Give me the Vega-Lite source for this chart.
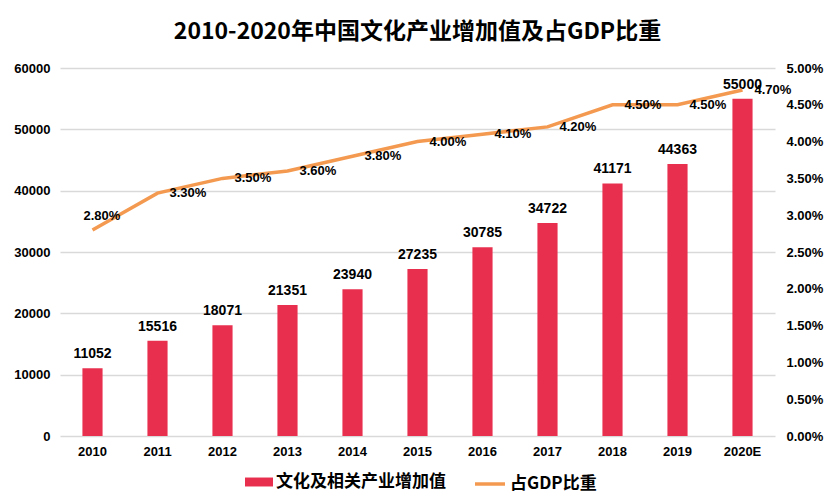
{
  "$schema": "https://vega.github.io/schema/vega-lite/v6.json",
  "width": 715,
  "height": 368,
  "autosize": {"type": "none"},
  "padding": {"left": 60, "top": 68, "right": 57, "bottom": 68},
  "background": "white",
  "title": {
    "text": "2010-2020年中国文化产业增加值及占GDP比重",
    "font": "Noto Sans CJK SC",
    "fontSize": 23,
    "fontWeight": "bold",
    "color": "#000000",
    "anchor": "middle",
    "offset": 18
  },
  "config": {
    "view": {"stroke": null},
    "axis": {
      "labelFont": "Liberation Sans",
      "labelFontWeight": "bold",
      "labelFontSize": 13,
      "labelColor": "#000000",
      "labelOverlap": false,
      "ticks": false,
      "domain": false,
      "title": null
    },
    "legend": {
      "labelFont": "Noto Sans CJK SC",
      "labelFontSize": 17,
      "labelFontWeight": "bold",
      "labelColor": "#000000",
      "labelLimit": 400,
      "title": null
    }
  },
  "data": {
    "values": [
      {"year": "2010", "value": 11052, "share": 0.028},
      {"year": "2011", "value": 15516, "share": 0.033},
      {"year": "2012", "value": 18071, "share": 0.035},
      {"year": "2013", "value": 21351, "share": 0.036},
      {"year": "2014", "value": 23940, "share": 0.038},
      {"year": "2015", "value": 27235, "share": 0.040},
      {"year": "2016", "value": 30785, "share": 0.041},
      {"year": "2017", "value": 34722, "share": 0.042},
      {"year": "2018", "value": 41171, "share": 0.045},
      {"year": "2019", "value": 44363, "share": 0.045},
      {"year": "2020E", "value": 55000, "share": 0.047}
    ]
  },
  "encoding": {
    "x": {
      "field": "year",
      "type": "ordinal",
      "scale": {"paddingInner": 0.69, "paddingOuter": 0.345},
      "axis": {"labelAngle": 0, "labelPadding": 9}
    }
  },
  "layer": [
    {
      "encoding": {
        "y": {
          "field": "value",
          "type": "quantitative",
          "scale": {"domain": [0, 60000]},
          "axis": {
            "values": [0, 10000, 20000, 30000, 40000, 50000, 60000],
            "grid": true,
            "gridColor": "#D9D9D9",
            "gridWidth": 1.5,
            "labelPadding": 10,
            "labelOverlap": false,
            "format": "d"
          }
        }
      },
      "layer": [
        {
          "mark": {"type": "bar"},
          "encoding": {
            "fill": {
              "datum": "文化及相关产业增加值",
              "scale": {"range": ["#E8304E"]},
              "legend": {
                "orient": "none",
                "legendX": 185,
                "legendY": 400,
                "symbolType": "M-1,-0.32L1,-0.32L1,0.32L-1,0.32Z",
                "symbolSize": 784,
                "symbolStrokeWidth": 0,
                "labelOffset": 3
              }
            }
          }
        },
        {
          "mark": {
            "type": "text",
            "baseline": "bottom",
            "dy": -7,
            "font": "Liberation Sans",
            "fontSize": 14,
            "fontWeight": "bold",
            "color": "#000000"
          },
          "encoding": {
            "text": {"field": "value", "type": "quantitative", "format": "d"}
          }
        }
      ]
    },
    {
      "encoding": {
        "y": {
          "field": "share",
          "type": "quantitative",
          "scale": {"domain": [0, 0.05]},
          "axis": {
            "orient": "right",
            "values": [0, 0.005, 0.01, 0.015, 0.02, 0.025, 0.03, 0.035, 0.04, 0.045, 0.05],
            "format": ".2%",
            "grid": false,
            "labelOverlap": false,
            "labelPadding": 11
          }
        }
      },
      "layer": [
        {
          "mark": {"type": "line", "strokeWidth": 3.5, "strokeCap": "butt"},
          "encoding": {
            "stroke": {
              "datum": "占GDP比重",
              "scale": {"range": ["#F39A50"]},
              "legend": {
                "orient": "none",
                "legendX": 413,
                "legendY": 399,
                "symbolType": "stroke",
                "symbolSize": 900,
                "symbolStrokeWidth": 3.5,
                "labelOffset": 3
              }
            }
          }
        },
        {
          "transform": [{"filter": "datum.year != '2010'"}],
          "mark": {
            "type": "text",
            "align": "left",
            "baseline": "middle",
            "dx": 12,
            "font": "Liberation Sans",
            "fontSize": 13,
            "fontWeight": "bold",
            "color": "#000000"
          },
          "encoding": {
            "text": {"field": "share", "type": "quantitative", "format": ".2%"}
          }
        },
        {
          "transform": [{"filter": "datum.year == '2010'"}],
          "mark": {
            "type": "text",
            "align": "left",
            "baseline": "middle",
            "dx": -9,
            "dy": -14,
            "font": "Liberation Sans",
            "fontSize": 13,
            "fontWeight": "bold",
            "color": "#000000"
          },
          "encoding": {
            "text": {"field": "share", "type": "quantitative", "format": ".2%"}
          }
        }
      ]
    }
  ],
  "resolve": {"scale": {"y": "independent", "fill": "independent", "stroke": "independent"}}
}
